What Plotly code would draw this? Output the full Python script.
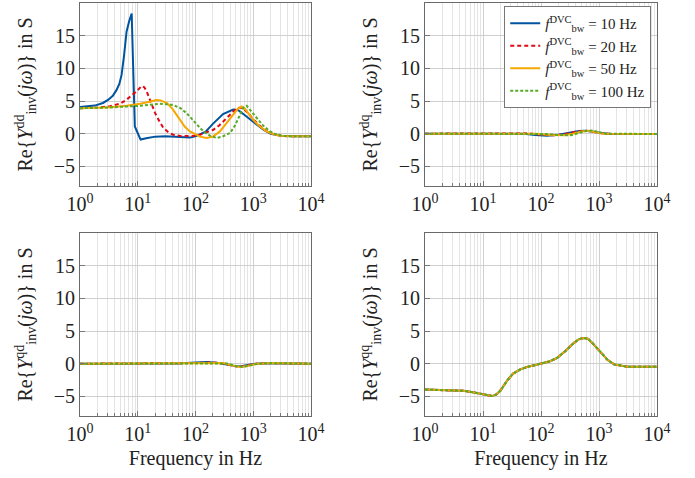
import plotly.graph_objects as go

# ---------------- data ----------------
series_names = ["10", "20", "50", "100"]
series_colors = ["#00549F", "#E30613", "#F6A800", "#57AB27"]
series_dash = ["solid", "4px,3px", "solid", "3px,2px"]

# Re{Y_dd}
dd_f_10 = [1, 1.8, 2.5, 3.1, 3.7, 4.3, 4.8, 5.25, 5.8, 6.4, 7.1, 7.85, 8.9, 11.2, 14, 20, 30, 44, 62, 80, 100,
           150, 200, 300, 450, 550, 700, 1000, 1500, 2000, 3000, 5000, 10000]
dd_y_10 = [4.1, 4.3, 4.7, 5.2, 5.8, 6.7, 7.6, 9.0, 12.0, 15.6, 17.2, 18.4, 1.1, -0.9, -0.7, -0.45, -0.4, -0.45, -0.6,
           -0.6, -0.4, 0.3, 1.5, 3.0, 3.7, 3.6, 2.9, 1.8, 0.6, 0.0, -0.3, -0.4, -0.4]

dd_f_20 = [1, 2, 3.3, 5, 6.4, 8, 9.6, 11.7, 13, 14.3, 17, 20, 24, 27.7, 33, 41, 55, 70, 90, 120, 160, 204,
           260, 346, 430, 517, 600, 700, 820, 1000, 1300, 1700, 2200, 3000, 4000, 6000, 10000]
dd_y_20 = [3.9, 4.0, 4.2, 4.6, 5.2, 5.9, 6.5, 7.3, 7.1, 6.45, 4.8, 3.15, 1.8, 0.9, 0.3, -0.15, -0.35, -0.4, -0.35,
           -0.15, 0.2, 0.6, 1.3, 2.4, 3.3, 3.9, 4.0, 3.7, 3.15, 2.2, 1.2, 0.4, -0.05, -0.3, -0.4, -0.4, -0.4]

dd_f_50 = [1, 3, 6.4, 11, 16, 21, 25, 32, 40, 54, 65, 80, 100, 120, 156, 200, 265, 350, 450, 540, 630, 720,
           850, 1000, 1300, 1700, 2200, 2900, 4000, 10000]
dd_y_50 = [3.9, 4.0, 4.27, 4.57, 4.9, 5.15, 5.1, 4.7, 3.8, 2.1, 1.1, 0.35, -0.15, -0.45, -0.66, -0.45, 0.35,
           1.6, 2.9, 3.8, 4.16, 3.8, 3.0, 2.1, 1.1, 0.35, -0.05, -0.3, -0.4, -0.4]

dd_f_100 = [1, 3, 11, 18, 24, 32, 41, 55, 70, 90, 120, 150, 178, 233, 300, 397, 480, 590, 680, 770, 900,
            1150, 1500, 1950, 2500, 3500, 5000, 10000]
dd_y_100 = [3.9, 4.0, 4.27, 4.5, 4.57, 4.5, 4.4, 3.9, 3.15, 2.1, 0.87, 0.1, -0.3, -0.66, -0.4, 0.1, 1.2, 2.9,
            4.0, 4.27, 3.5, 2.4, 1.2, 0.35, -0.1, -0.35, -0.4, -0.4]

# Re{Y_dq}
dq_f_10 = [1, 10, 20, 30, 50, 80, 127, 200, 300, 450, 590, 800, 1000, 1500, 3000, 10000]
dq_y_10 = [0, 0, 0.05, 0.1, 0.0, -0.2, -0.3, -0.15, 0.15, 0.4, 0.45, 0.3, 0.1, -0.05, -0.05, -0.05]
dq_f_20 = [1, 15, 30, 60, 100, 160, 250, 400, 600, 800, 1100, 2000, 10000]
dq_y_20 = [0, 0, 0.1, 0.05, -0.15, -0.25, -0.1, 0.3, 0.45, 0.3, 0.05, -0.05, -0.05]
dq_f_50 = [1, 40, 80, 150, 250, 350, 500, 650, 850, 1200, 10000]
dq_y_50 = [0, 0.05, 0.0, -0.2, -0.25, 0.0, 0.35, 0.45, 0.25, 0.0, -0.05]
dq_f_100 = [1, 60, 120, 200, 325, 450, 600, 750, 950, 1300, 10000]
dq_y_100 = [0, 0.05, -0.05, -0.2, -0.25, 0.1, 0.4, 0.5, 0.25, 0.0, -0.05]

# Re{Y_qd}
qd_f_10 = [1, 20, 50, 100, 160, 250, 350, 500, 650, 900, 1300, 2000, 3000, 10000]
qd_y_10 = [0, 0, 0.05, 0.2, 0.25, 0.1, -0.2, -0.4, -0.35, -0.1, 0.05, 0.1, 0.05, 0]
qd_f_20 = [1, 50, 100, 200, 300, 450, 600, 800, 1100, 2000, 10000]
qd_y_20 = [0, 0.02, 0.1, 0.2, 0.05, -0.35, -0.45, -0.25, 0.0, 0.1, 0]
qd_f_50 = [1, 100, 200, 300, 450, 600, 800, 1100, 2000, 10000]
qd_y_50 = [0, 0.05, 0.15, 0.1, -0.3, -0.5, -0.35, -0.05, 0.1, 0]
qd_f_100 = [1, 120, 250, 350, 500, 650, 850, 1200, 2000, 10000]
qd_y_100 = [0, 0.05, 0.15, 0.05, -0.35, -0.5, -0.3, 0.0, 0.1, 0]

# Re{Y_qq} (identical for all bandwidths)
qq_f = [1, 2, 3, 4.6, 7, 10, 12, 14.3, 17, 20, 26, 33, 44, 60, 80, 100, 140, 190, 260, 370, 450, 550, 650,
        800, 1070, 1400, 1820, 2500, 3100, 5000, 10000]
qq_y = [-3.95, -4.0, -4.05, -4.15, -4.4, -4.65, -4.8, -4.95, -4.7, -4.1, -2.6, -1.5, -0.86, -0.45, -0.2, 0.0,
        0.35, 0.9, 1.9, 3.2, 3.75, 3.95, 3.8, 3.0, 1.7, 0.6, -0.1, -0.37, -0.45, -0.45, -0.45]

dd_data = [(dd_f_10, dd_y_10), (dd_f_20, dd_y_20), (dd_f_50, dd_y_50), (dd_f_100, dd_y_100)]
dq_data = [(dq_f_10, dq_y_10), (dq_f_20, dq_y_20), (dq_f_50, dq_y_50), (dq_f_100, dq_y_100)]
qd_data = [(qd_f_10, qd_y_10), (qd_f_20, qd_y_20), (qd_f_50, qd_y_50), (qd_f_100, qd_y_100)]
qq_data = [(qq_f, qq_y)] * 4

x_tick_vals = [1, 10, 100, 1000, 10000]
x_tick_text = ["10<sup>0</sup>", "10<sup>1</sup>", "10<sup>2</sup>", "10<sup>3</sup>", "10<sup>4</sup>"]
y_tick_vals = [-5, 0, 5, 10, 15]

# ---------------- figure ----------------
FONT = "Liberation Serif"
TXT = "#222"
fig = go.Figure()

panels = [
    (dd_data, "x", "y", "dd"),
    (dq_data, "x2", "y2", "dq"),
    (qd_data, "x3", "y3", "qd"),
    (qq_data, "x4", "y4", "qq"),
]

for data, xa, ya, tag in panels:
    for i, (f, y) in enumerate(data):
        fig.add_trace(go.Scatter(
            x=f, y=y, xaxis=xa, yaxis=ya, mode="lines",
            line=dict(color=series_colors[i], width=2, dash=series_dash[i]),
            name=f"<i>f</i><sup>DVC</sup><sub>bw</sub> = {series_names[i]} Hz",
            legendgroup=series_names[i],
            showlegend=(tag == "dq"),
        ))

minor_vals = [k * 10 ** d for d in range(4) for k in range(2, 10)]

def xaxis(domain, anchor, title):
    return dict(
        type="log", range=[0, 4], domain=domain, anchor=anchor,
        tickvals=x_tick_vals, ticktext=x_tick_text,
        showgrid=True, gridcolor="#cfcfcf", gridwidth=1,
        minor=dict(tickvals=minor_vals, showgrid=True, gridcolor="#e4e4e4", gridwidth=1,
                   ticks="inside", ticklen=3, tickcolor="#777"),
        ticks="inside", ticklen=5, tickcolor="#777",
        showline=True, linecolor="#6a6a6a", linewidth=1, mirror=True,
        zeroline=False,
        tickfont=dict(family=FONT, size=20, color=TXT),
        title=dict(text=title, font=dict(family=FONT, size=20, color=TXT), standoff=6),
    )

def yaxis(domain, anchor, sup):
    return dict(
        range=[-8, 20], domain=domain, anchor=anchor,
        tickvals=y_tick_vals,
        showgrid=True, gridcolor="#cfcfcf", gridwidth=1,
        ticks="inside", ticklen=5, tickcolor="#777",
        showline=True, linecolor="#6a6a6a", linewidth=1, mirror=True,
        zeroline=False,
        tickfont=dict(family=FONT, size=20, color=TXT),
        title=dict(text=f"Re{{<i>Y</i><sup>{sup}</sup><sub>inv</sub>(<i>jω</i>)}} in S",
                   font=dict(family=FONT, size=20, color=TXT), standoff=15),
    )

left = [0, 0.4003]
right = [0.598, 1]
top = [0.557, 1]
bottom = [0, 0.443]

fig.update_layout(
    width=695, height=478,
    margin=dict(l=80, r=38, t=3, b=62),
    paper_bgcolor="white", plot_bgcolor="white",
    font=dict(family=FONT, color=TXT),
    xaxis=xaxis(left, "y", ""),
    yaxis=yaxis(top, "x", "dd"),
    xaxis2=xaxis(right, "y2", ""),
    yaxis2=yaxis(top, "x2", "dq"),
    xaxis3=xaxis(left, "y3", "Frequency in Hz"),
    yaxis3=yaxis(bottom, "x3", "qd"),
    xaxis4=xaxis(right, "y4", "Frequency in Hz"),
    yaxis4=yaxis(bottom, "x4", "qq"),
    legend=dict(
        x=0.99, y=0.993, xanchor="right", yanchor="top",
        bgcolor="white", bordercolor="#777", borderwidth=1,
        font=dict(family=FONT, size=15, color=TXT),
        itemwidth=30, tracegroupgap=0,
    ),
)

fig.write_html("out.html")
